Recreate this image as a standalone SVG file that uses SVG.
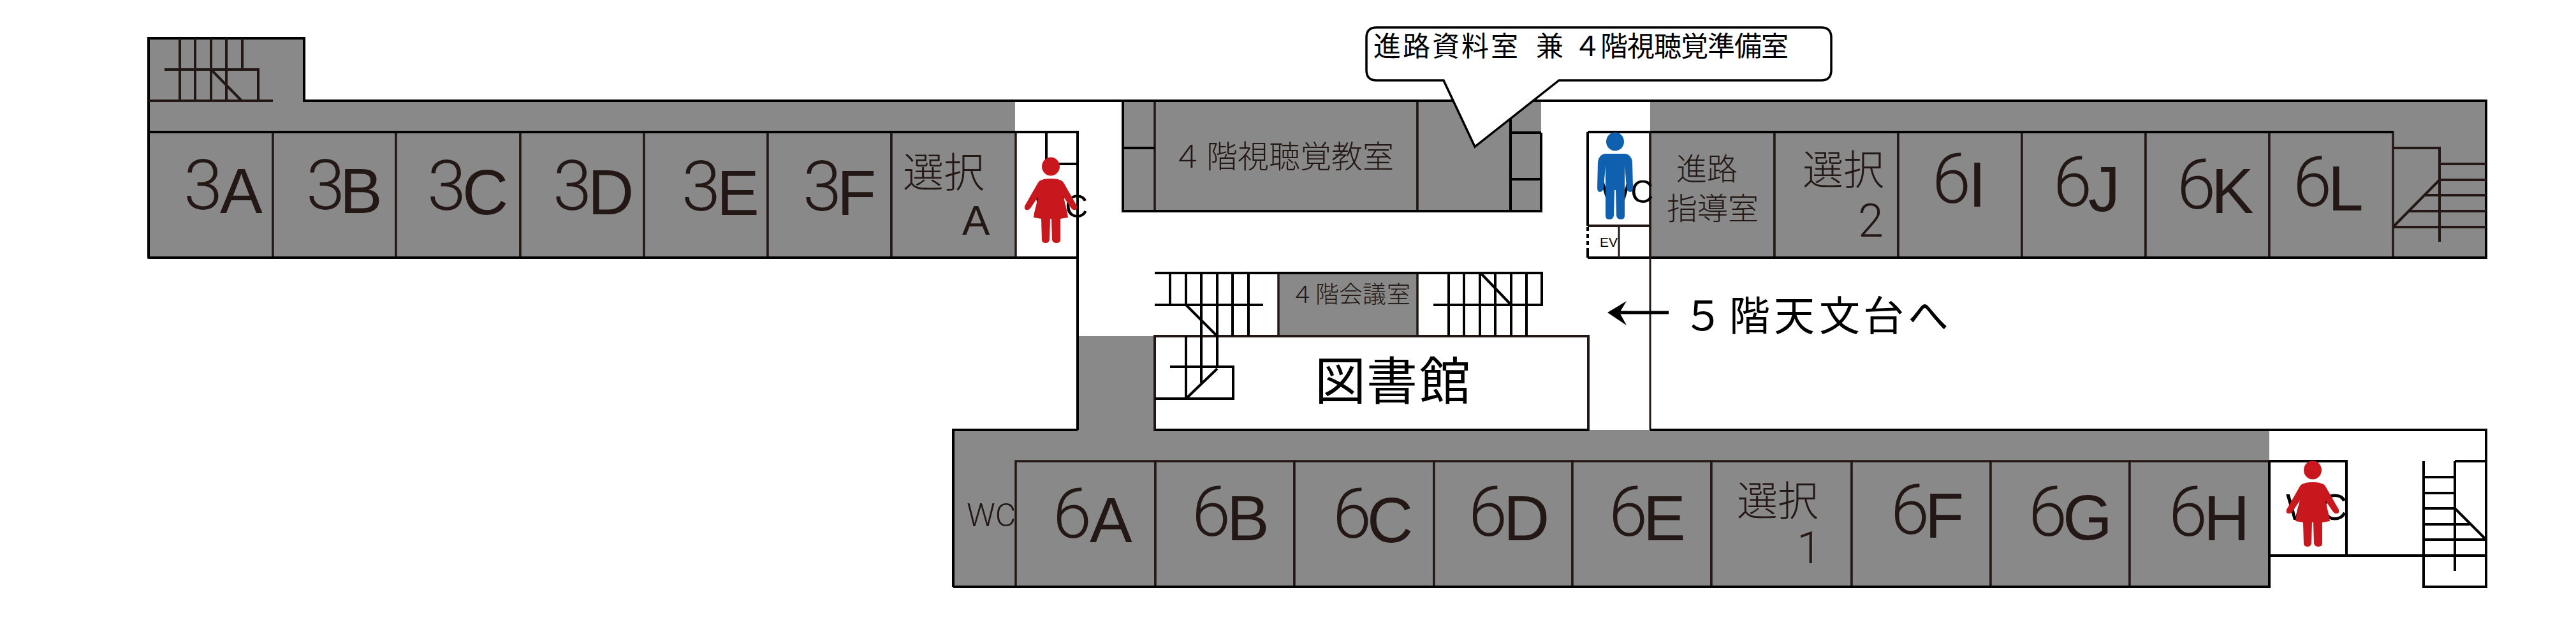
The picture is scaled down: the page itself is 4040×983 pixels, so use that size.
<svg xmlns="http://www.w3.org/2000/svg" xmlns:xlink="http://www.w3.org/1999/xlink" width="4040" height="983" viewBox="0 0 4040 983">
<style>
.g{fill:#898989}
.r{fill:#898989;stroke:#231815;stroke-width:3.5}
.k{fill:none;stroke:#000;stroke-width:4}
.s{fill:none;stroke:#231815;stroke-width:4}
.t{fill:none;stroke:#231815;stroke-width:3}
.d{font-family:Roboto,"Liberation Sans",sans-serif;font-weight:300;font-size:110px;fill:#231815}
.l{font-family:"Liberation Sans",Arial,sans-serif;font-weight:400;font-size:100px;fill:#231815}
.j{font-family:"Noto Sans CJK JP","Noto Sans",sans-serif;font-weight:300;fill:#231815}
.w{font-family:"Liberation Sans",Arial,sans-serif;fill:#000}
</style>
<defs>
<g id="woman" fill="#c9171e"><ellipse cx="0" cy="0" rx="14" ry="14.5"/>
<path d="M-12 20Q0 18 12 20L14 23L26 73L27 80L15 82L15 116Q14 120 9 120Q3 120 2 115L1 82L-1 82L-2 115Q-3 120-8 120Q-13 120-14 116L-15 82L-27 80L-26 73L-14 23Z"/>
<path d="M13 21Q18 21 21 27L41 62Q42 68 38 68Q34 69 31 64L12 36Z"/><path d="M-13 21Q-18 21-21 27L-41 62Q-42 68-38 68Q-34 69-31 64L-12 36Z"/></g>
<g id="man" fill="#0f60ae"><ellipse cx="0" cy="0" rx="14" ry="14.5"/>
<path d="M-16 19L16 19Q26 21 27 32L28 72Q28 79 24 79Q19 79 18 72L15 38L15 116Q15 122 9 122Q3 122 2 116L1 76L-1 76L-2 116Q-3 122-9 122Q-15 122-15 116L-15 38L-18 72Q-19 79-24 79Q-28 79-28 72L-27 32Q-26 21-16 19Z"/></g>
</defs>
<rect width="4040" height="983" fill="#fff"/>
<g id="floors">
<path class="g" d="M233 60H477V158H1592V404H233Z"/>
<rect class="g" x="1761" y="158" width="656" height="173"/>
<rect class="g" x="2588" y="158" width="1311" height="246"/>
<path class="g" d="M1495 674H1690V527H1811V674H3559V920H1495Z"/>
</g>
<g id="room-3A"><rect class="r" x="233" y="207" width="195" height="197"/><text class="d" x="288" y="328">3<tspan class="l" x="345" y="334">A</tspan></text></g>
<g id="room-3B"><rect class="r" x="428" y="207" width="193" height="197"/><text class="d" x="480" y="328">3<tspan class="l" x="533" y="334">B</tspan></text></g>
<g id="room-3C"><rect class="r" x="621" y="207" width="195" height="197"/><text class="d" x="670" y="329">3<tspan class="l" x="725" y="336">C</tspan></text></g>
<g id="room-3D"><rect class="r" x="816" y="207" width="194" height="197"/><text class="d" x="867" y="329">3<tspan class="l" x="922" y="336">D</tspan></text></g>
<g id="room-3E"><rect class="r" x="1010" y="207" width="194" height="197"/><text class="d" x="1069" y="330">3<tspan class="l" x="1124" y="337">E</tspan></text></g>
<g id="room-3F"><rect class="r" x="1204" y="207" width="194" height="197"/><text class="d" x="1259" y="330">3<tspan class="l" x="1313" y="337">F</tspan></text></g>
<g id="room-sentaku-A"><rect class="r" x="1398" y="207" width="195" height="197"/><text class="j" x="1416" y="293" font-size="64">選択</text><text class="l" x="1509" y="368" style="font-size:65px">A</text></g>
<g id="room-shinro"><rect class="r" x="2588" y="207" width="195" height="197"/><text class="j" x="2629" y="282" font-size="48">進路</text><text class="j" x="2614" y="344" font-size="48">指導室</text></g>
<g id="room-sentaku-2"><rect class="r" x="2783" y="207" width="194" height="197"/><text class="j" x="2827" y="289" font-size="64">選択</text><text class="d" x="2914" y="371" style="font-size:72px">2</text></g>
<g id="room-6I"><rect class="r" x="2977" y="207" width="194" height="197"/><text class="d" x="3030" y="318">6<tspan class="l" x="3087" y="324">I</tspan></text></g>
<g id="room-6J"><rect class="r" x="3171" y="207" width="194" height="197"/><text class="d" x="3220" y="323">6<tspan class="l" x="3275" y="331">J</tspan></text></g>
<g id="room-6K"><rect class="r" x="3365" y="207" width="194" height="197"/><text class="d" x="3414" y="327">6<tspan class="l" x="3468" y="334">K</tspan></text></g>
<g id="room-6L"><rect class="r" x="3559" y="207" width="194" height="197"/><text class="d" x="3596" y="323">6<tspan class="l" x="3651" y="330">L</tspan></text></g>
<g id="room-av"><rect class="r" x="1811" y="158" width="412" height="173"/><text class="j" y="263" font-size="49" x="1838 1892 1941 1990 2039 2088 2137">４階視聴覚教室</text></g>
<g id="room-av-prep"><rect class="r" x="2223" y="158" width="146" height="173"/></g>
<g id="room-kaigi"><rect class="r" x="2005" y="428" width="218" height="99"/><text class="j" y="475" font-size="37" x="2024 2063 2100 2137 2175">４階会議室</text></g>
<g id="wc-lower-left"><text x="1516" y="825" style="font-family:Roboto,'Liberation Sans',sans-serif;font-weight:300;font-size:50px;fill:#231815">WC</text></g>
<g id="room-6A"><rect class="r" x="1593" y="723" width="219" height="197"/><text class="d" x="1651" y="843">6<tspan class="l" x="1709" y="850">A</tspan></text></g>
<g id="room-6B"><rect class="r" x="1812" y="723" width="218" height="197"/><text class="d" x="1869" y="840">6<tspan class="l" x="1924" y="847">B</tspan></text></g>
<g id="room-6C"><rect class="r" x="2030" y="723" width="219" height="197"/><text class="d" x="2090" y="843">6<tspan class="l" x="2144" y="850">C</tspan></text></g>
<g id="room-6D"><rect class="r" x="2249" y="723" width="217" height="197"/><text class="d" x="2303" y="840">6<tspan class="l" x="2358" y="847">D</tspan></text></g>
<g id="room-6E"><rect class="r" x="2466" y="723" width="218" height="197"/><text class="d" x="2523" y="840">6<tspan class="l" x="2577" y="847">E</tspan></text></g>
<g id="room-sentaku-1"><rect class="r" x="2684" y="723" width="220" height="197"/><text class="j" x="2724" y="808" font-size="64">選択</text><text class="d" x="2818" y="883" style="font-size:70px">1</text></g>
<g id="room-6F"><rect class="r" x="2904" y="723" width="218" height="197"/><text class="d" x="2965" y="837">6<tspan class="l" x="3019" y="843">F</tspan></text></g>
<g id="room-6G"><rect class="r" x="3122" y="723" width="218" height="197"/><text class="d" x="3181" y="840">6<tspan class="l" x="3235" y="846">G</tspan></text></g>
<g id="room-6H"><rect class="r" x="3340" y="723" width="219" height="197"/><text class="d" x="3401" y="840">6<tspan class="l" x="3456" y="847">H</tspan></text></g>
<g id="library"><rect x="1811" y="527" width="680" height="147" fill="#fff" stroke="#231815" stroke-width="4"/><text class="j" y="626" font-size="80" x="2062 2143 2226" style="font-weight:400;fill:#000">図書館</text></g>
<g id="walls">
<path class="k" d="M233 404V60H477V158H3899V404H2490M2490 207H3753M233 404H1690V207H233M1690 404V674"/>
<path class="k" d="M1641 207V257H1690"/>
<path class="s" d="M2490 354H2588"/>
<path class="t" d="M2588 207V674"/>
<path class="t" d="M2539 354V404"/>
<path class="k" d="M2490 207V354"/>
<path class="k" d="M2490 356V390" stroke-dasharray="6 5"/>
<path class="k" d="M2490 390V404"/>
<path class="k" d="M2417 208V331H1761V158M2369 187V331M1761 232H1811M2369 208H2417M2369 281H2417"/>
<path class="k" d="M1495 920V674H1690M1811 674H2491M2588 674H3899V920H3801V723M1495 920H3559V723M3559 723H3680V871M3559 871H3899M3850 723V895M3850 723H3899"/>
</g>
<g id="stairs-nw"><path class="s" d="M282 60V158M306 60V158M331 60V158M355 60V158M380 60V109M258 109H405V158M233 158H428M331 109L378 157"/></g>
<g id="stairs-ne"><path class="s" d="M3753 232H3826V379M3826 257H3899M3826 282H3899M3803 306H3899M3779 331H3899M3753 356H3899M3826 282L3753 356"/></g>
<g id="stairs-center-left"><path class="k" d="M1811 428H2223M1811 478H1981M1835 428V478M1860 428V478M1884 428V527M1909 428V527M1933 428V527M1958 428V527M1860 478L1909 527M1860 527V625M1884 527V600M1909 527V575M1835 575H1934V625H1811M1909 578L1860 625"/></g>
<g id="stairs-center-right"><path class="k" d="M2223 428H2418V478H2248M2272 428V527M2296 428V527M2321 428V527M2345 428V527M2370 428V527M2394 428V527M2322 428L2370 478"/></g>
<g id="stairs-se"><path class="k" d="M3801 748H3850M3801 773H3850M3801 797H3850M3801 822H3873M3801 846H3899M3850 797L3899 846"/></g>
<g id="wc-left"><text class="w" x="1623" y="341" font-size="50">WC</text><use xlink:href="#woman" href="#woman" x="1648" y="261"/></g>
<g id="wc-upper-right"><text class="w" x="2510" y="318" font-size="50">WC</text><use xlink:href="#man" href="#man" x="2533" y="222"/></g>
<g id="ev"><text class="w" x="2509" y="387" font-size="21">EV</text></g>
<g id="wc-lower-right"><text class="w" x="3585" y="815" font-size="58">WC</text><use xlink:href="#woman" href="#woman" x="3627" y="737"/></g>
<g id="callout"><path d="M2159 43H2856Q2872 43 2872 59V110Q2872 126 2856 126H2445L2313 230L2264 126H2159Q2143 126 2143 110V59Q2143 43 2159 43Z" fill="#fff" stroke="#000" stroke-width="3.5"/>
<text class="j" y="88" font-size="43" x="2154 2200 2246 2292 2338 2390 2409 2455 2468 2510 2552 2594 2636 2678 2720 2762" style="font-weight:400;fill:#000">進路資料室 兼 ４階視聴覚準備室</text></g>
<g id="connectors"><path d="M2530 490H2617" stroke="#000" stroke-width="5" fill="none"/><path d="M2521 490L2551 472L2540 490L2551 510Z" fill="#000"/></g>
<g id="to-observatory"><text class="j" y="518" font-size="64" x="2639 2712 2782 2853 2922 2992" style="font-weight:400;fill:#000">５階天文台へ</text></g>
</svg>
